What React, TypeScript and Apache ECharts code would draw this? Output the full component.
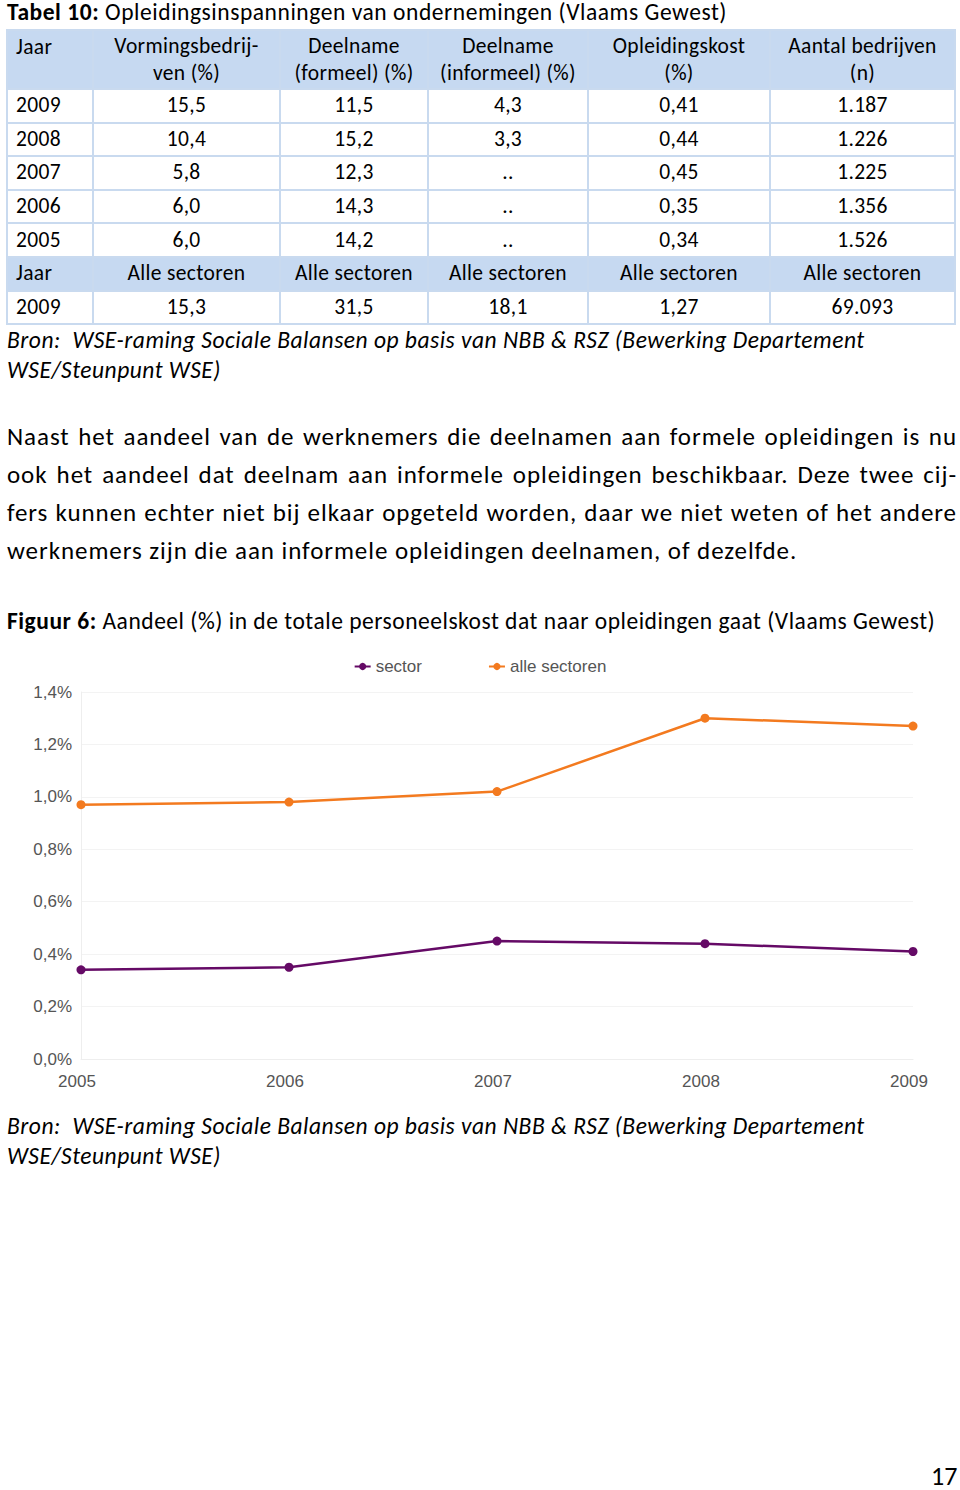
import React, { useEffect, useRef } from "react";
import * as echarts from "echarts";

const years = ["2005", "2006", "2007", "2008", "2009"];
const sectorValues = [0.34, 0.35, 0.45, 0.44, 0.41];
const alleSectorenValues = [0.97, 0.98, 1.02, 1.3, 1.27];
const yTicks = [0, 0.2, 0.4, 0.6, 0.8, 1.0, 1.2, 1.4];

const tableHeader = ["Jaar", "Vormingsbedrij-\nven (%)", "Deelname\n(formeel) (%)", "Deelname\n(informeel) (%)", "Opleidingskost\n(%)", "Aantal bedrijven\n(n)"];
const tableRows = [
  ["2009", "15,5", "11,5", "4,3", "0,41", "1.187"],
  ["2008", "10,4", "15,2", "3,3", "0,44", "1.226"],
  ["2007", "5,8", "12,3", "..", "0,45", "1.225"],
  ["2006", "6,0", "14,3", "..", "0,35", "1.356"],
  ["2005", "6,0", "14,2", "..", "0,34", "1.526"],
];
const tableSubHeader = ["Jaar", "Alle sectoren", "Alle sectoren", "Alle sectoren", "Alle sectoren", "Alle sectoren"];
const tableTotalRow = ["2009", "15,3", "31,5", "18,1", "1,27", "69.093"];

const paragraphLines = [
  "Naast het aandeel van de werknemers die deelnamen aan formele opleidingen is nu",
  "ook het aandeel dat deelnam aan informele opleidingen beschikbaar. Deze twee cij-",
  "fers kunnen echter niet bij elkaar opgeteld worden, daar we niet weten of het andere",
  "werknemers zijn die aan informele opleidingen deelnamen, of dezelfde.",
];

const FONT = "Carlito, Calibri, Lato, sans-serif";
const AXIS_FONT = "Liberation Sans, Arial, sans-serif";
const colWidths = [86, 187, 148, 160, 182, 185];
const HEADER_BG = "#c6d9f1";
const BORDER = "#c9daef";

function Chart() {
  const ref = useRef<HTMLDivElement>(null);
  useEffect(() => {
    if (!ref.current) return;
    const chart = echarts.init(ref.current, undefined, { renderer: "svg" });
    chart.setOption({
      animation: false,
      legend: {
        top: 13,
        left: "center",
        itemGap: 66,
        itemWidth: 16,
        itemHeight: 9,
        textStyle: { fontFamily: AXIS_FONT, fontSize: 17, color: "#555" },
        data: ["sector", "alle sectoren"],
      },
      grid: { left: 81, right: 47, top: 52, bottom: 51 },
      xAxis: {
        type: "category",
        data: years,
        boundaryGap: false,
        axisLine: { lineStyle: { color: "#eeeeee" } },
        axisTick: { show: false },
        axisLabel: { fontFamily: AXIS_FONT, fontSize: 17, color: "#555", margin: 14, padding: [0, 8, 0, 0] },
      },
      yAxis: {
        type: "value",
        min: yTicks[0],
        max: yTicks[yTicks.length - 1],
        interval: 0.2,
        axisLine: { show: true, lineStyle: { color: "#eeeeee" } },
        axisTick: { show: false },
        splitLine: { lineStyle: { color: "#f3f3f3" } },
        axisLabel: {
          fontFamily: AXIS_FONT,
          fontSize: 17,
          color: "#555",
          margin: 9,
          formatter: (v: number) => v.toFixed(1).replace(".", ",") + "%",
        },
      },
      series: [
        {
          name: "sector",
          type: "line",
          data: sectorValues,
          symbol: "circle",
          symbolSize: 9,
          lineStyle: { width: 2.5, color: "#650a66" },
          itemStyle: { color: "#650a66" },
        },
        {
          name: "alle sectoren",
          type: "line",
          data: alleSectorenValues,
          symbol: "circle",
          symbolSize: 9,
          lineStyle: { width: 2.5, color: "#f37a1f" },
          itemStyle: { color: "#f37a1f" },
        },
      ],
    });
    return () => chart.dispose();
  }, []);
  return <div ref={ref} style={{ position: "absolute", left: 0, top: 640, width: 960, height: 470 }} />;
}

function Cell({ text, idx, bg, height }: { text: string; idx: number; bg: string; height: number }) {
  const topJaar = idx === 0 && text === "Jaar" && height > 40;
  return (
    <td
      style={{
        width: colWidths[idx],
        height,
        padding: 0,
        paddingLeft: idx === 0 ? 8 : 0,
        paddingTop: topJaar ? 3 : 0,
        textAlign: idx === 0 ? "left" : "center",
        verticalAlign: topJaar ? "top" : "middle",
        background: bg,
        border: `2px solid ${BORDER}`,
        whiteSpace: "pre-line",
        lineHeight: "27px",
        boxSizing: "border-box",
      }}
    >
      {text}
    </td>
  );
}

export default function App() {
  const rowH = 33.6;
  return (
    <div style={{ position: "absolute", left: 0, top: 0, width: 960, height: 1490, background: "#fff", fontFamily: FONT, color: "#000" }}>
      <div style={{ position: "absolute", left: 7, top: -2, fontSize: 23.5, letterSpacing: 0.55, whiteSpace: "nowrap" }}>
        <b>Tabel 10:</b> Opleidingsinspanningen van ondernemingen (Vlaams Gewest)
      </div>
      <table
        style={{
          position: "absolute",
          left: 6,
          top: 29,
          width: 950,
          borderCollapse: "collapse",
          tableLayout: "fixed",
          fontSize: 21.5,
          letterSpacing: 0.33,
          fontFamily: FONT,
        }}
      >
        <tbody>
          <tr>
            {tableHeader.map((t, i) => (
              <Cell key={i} text={t} idx={i} bg={HEADER_BG} height={59} />
            ))}
          </tr>
          {tableRows.map((r, ri) => (
            <tr key={ri}>
              {r.map((t, i) => (
                <Cell key={i} text={t} idx={i} bg="#fff" height={rowH} />
              ))}
            </tr>
          ))}
          <tr>
            {tableSubHeader.map((t, i) => (
              <Cell key={i} text={t} idx={i} bg={HEADER_BG} height={rowH} />
            ))}
          </tr>
          <tr>
            {tableTotalRow.map((t, i) => (
              <Cell key={i} text={t} idx={i} bg="#fff" height={rowH} />
            ))}
          </tr>
        </tbody>
      </table>
      <div style={{ position: "absolute", left: 7, top: 325, fontSize: 23.5, letterSpacing: 0.5, fontStyle: "italic", lineHeight: "30px" }}>
        <div style={{ whiteSpace: "pre" }}>Bron:  WSE-raming Sociale Balansen op basis van NBB &amp; RSZ (Bewerking Departement</div>
        <div>WSE/Steunpunt WSE)</div>
      </div>
      <div style={{ position: "absolute", left: 7, top: 418, width: 950, fontSize: 25, letterSpacing: 0.94, lineHeight: "38px" }}>
        {paragraphLines.map((l, i) => (
          <div
            key={i}
            style={{
              whiteSpace: "nowrap",
              textAlign: i < paragraphLines.length - 1 ? "justify" : "left",
              textAlignLast: i < paragraphLines.length - 1 ? "justify" : "left",
            }}
          >
            {l}
          </div>
        ))}
      </div>
      <div style={{ position: "absolute", left: 7, top: 607, fontSize: 23.5, letterSpacing: 0.52, whiteSpace: "nowrap" }}>
        <b>Figuur 6:</b> Aandeel (%) in de totale personeelskost dat naar opleidingen gaat (Vlaams Gewest)
      </div>
      <Chart />
      <div style={{ position: "absolute", left: 7, top: 1111, fontSize: 23.5, letterSpacing: 0.5, fontStyle: "italic", lineHeight: "30px" }}>
        <div style={{ whiteSpace: "pre" }}>Bron:  WSE-raming Sociale Balansen op basis van NBB &amp; RSZ (Bewerking Departement</div>
        <div>WSE/Steunpunt WSE)</div>
      </div>
      <div style={{ position: "absolute", left: 931, top: 1460, fontSize: 26 }}>17</div>
    </div>
  );
}
